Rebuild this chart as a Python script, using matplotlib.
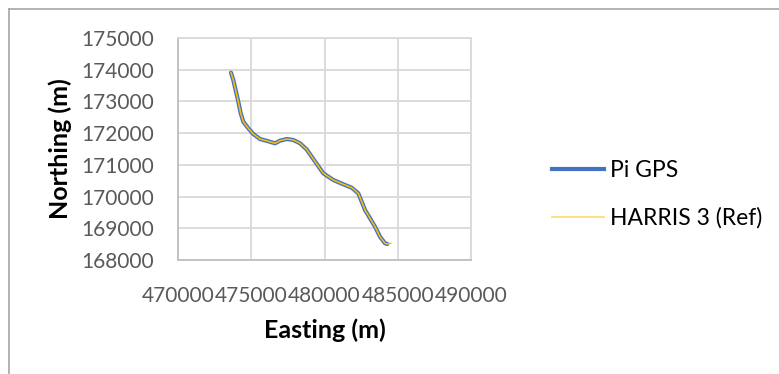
import matplotlib
matplotlib.use("Agg")
import matplotlib.pyplot as plt
from matplotlib.lines import Line2D

plt.rcParams['font.family'] = ['Lato', 'DejaVu Sans']

# Track (Easting, Northing)
easting = [473618, 473775, 473959, 474116, 474280, 474457, 474799, 475140, 475597,
           476164, 476621, 476963, 477420, 477870, 478328, 478785, 479283, 479918,
           480601, 481283, 481857, 482307, 482539, 482765, 483106, 483447, 483789,
           484130, 484287]
northing = [173906, 173676, 173307, 172992, 172626, 172361, 172153, 171973, 171815,
            171743, 171680, 171762, 171815, 171784, 171680, 171484, 171153, 170734,
            170523, 170387, 170280, 170103, 169839, 169577, 169315, 169050, 168735,
            168527, 168505]
ref_easting = easting + [484519]
ref_northing = northing + [168527]

x_ticks = [470000, 475000, 480000, 485000, 490000]
y_ticks = [168000, 169000, 170000, 171000, 172000, 173000, 174000, 175000]

fig = plt.figure(figsize=(7.79, 3.74), dpi=100)
ax = fig.add_axes([178/779, 1-260/374, 293/779, 222/374])

ax.plot(easting, northing, color='#4472C4', lw=3.0, solid_capstyle='round',
        solid_joinstyle='round', label='Pi GPS', zorder=3)
ax.plot(ref_easting, ref_northing, color='#FFC000', lw=1.1, solid_joinstyle='round',
        label='HARRIS 3 (Ref)', zorder=4)

ax.set_xlim(470000, 490000)
ax.set_ylim(168000, 175000)
ax.set_xticks(x_ticks)
ax.set_yticks(y_ticks)
ax.set_xticklabels([str(v) for v in x_ticks])
ax.set_yticklabels([str(v) for v in y_ticks])
ax.tick_params(length=0, labelsize=15, labelcolor='#595959')
ax.tick_params(axis='y', pad=17)
ax.tick_params(axis='x', pad=18.5)
ax.grid(True, color='#D9D9D9', lw=1.3)
ax.set_axisbelow(True)
for s in ax.spines.values():
    s.set_color('#D9D9D9')
    s.set_linewidth(1.3)
ax.spines['bottom'].set_color('#BFBFBF')
ax.spines['left'].set_color('#BFBFBF')

ax.set_xlabel('Easting (m)', fontsize=18, fontweight='bold', va='center')
ax.xaxis.set_label_coords(0.5, -70/222)
ax.set_ylabel('Northing (m)', fontsize=18, fontweight='bold', va='center')
ax.yaxis.set_label_coords(-118/293, 0.5)

handles = [Line2D([], [], color='#4472C4', lw=3.0),
           Line2D([], [], color='#FFD966', lw=1.2)]
fig.legend(handles, ['Pi GPS', 'HARRIS 3 (Ref)'], loc='upper left',
           bbox_to_anchor=(531/779, 1-139/374), frameon=False, fontsize=16.5,
           handlelength=2.27, handletextpad=0.26, labelspacing=1.17)

# chart area border (left and top visible)
fig.add_artist(Line2D([9/779, 9/779], [0, 1-9/374], transform=fig.transFigure,
                      color='#A6A6A6', lw=1.2))
fig.add_artist(Line2D([9/779, 1], [1-9/374, 1-9/374], transform=fig.transFigure,
                      color='#A6A6A6', lw=1.2))

fig.savefig('out.png', dpi=100)
